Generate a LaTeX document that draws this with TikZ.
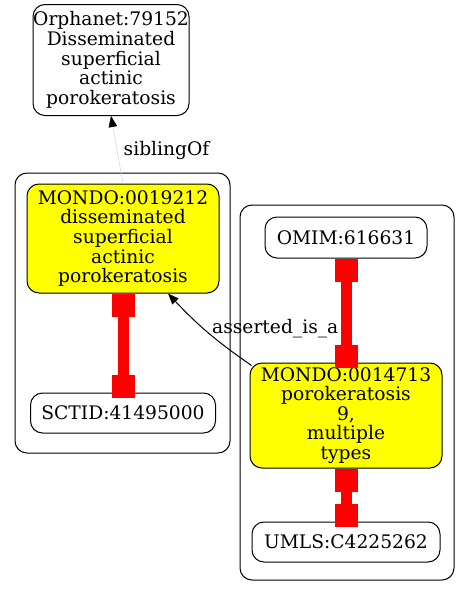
\documentclass[tikz,border=0pt]{standalone}
\usepackage{fontspec}
\setmainfont{DejaVu Serif}
\usetikzlibrary{arrows.meta}
\definecolor{lgray}{HTML}{D3D3D3}
\definecolor{gvyellow}{RGB}{255,255,0}
\definecolor{gvred}{RGB}{255,0,0}
\begin{document}
\begin{tikzpicture}[x=1pt,y=-1pt,
  every node/.style={font=\fontsize{18.67}{19.6}\selectfont},
  box/.style={draw=black, line width=1pt, rounded corners=12pt, align=center, inner sep=0pt},
  hl/.style={box, fill=gvyellow},
  clus/.style={draw=black, line width=1pt, rounded corners=12pt},
  redline/.style={draw=gvred, line width=11pt},
  lbl/.style={anchor=base west, inner sep=0pt},
  tip/.style={-{Triangle[length=11pt,width=8.5pt,color=black]}}]
\useasboundingbox[fill=white] (0,0) rectangle (469,597);
\draw[clus] (15,173) rectangle (230,453);
\draw[clus] (240,205) rectangle (454,580);
\node[box, minimum width=156pt, minimum height=111pt] (orph) at (111,60)
  {Orphanet:79152\\Disseminated\\superficial\\actinic\\porokeratosis};
\node[hl, minimum width=192pt, minimum height=109pt] (m1) at (123,238.5)
  {MONDO:0019212\\disseminated\\superficial\\actinic\\porokeratosis};
\node[box, minimum width=185pt, minimum height=40pt] (sct) at (123,413) {SCTID:41495000};
\node[box, minimum width=162pt, minimum height=41pt] (omim) at (346,237.5) {OMIM:616631};
\node[hl, minimum width=192pt, minimum height=105pt] (m2) at (346,415.5)
  {MONDO:0014713\\porokeratosis\\9,\\multiple\\types};
\node[box, minimum width=188pt, minimum height=40pt] (umls) at (346,542) {UMLS:C4225262};
% siblingOf
\draw[draw=lgray, line width=0.5pt, tip] (m1.north) -- (orph.south);
\node[lbl] (l1) at (123.5,155) {siblingOf};
% asserted_is_a
\draw[black, line width=1pt, tip] ([shift={(2,3)}]m2.north west) to[bend left=6] ([xshift=45pt]m1.south);
\node[lbl] (l2) at (212,333) {asserted\_is\_a};
% red edges
\foreach \a/\b in {m1/sct, omim/m2, m2/umls}{
  \draw[redline] (\a.south) -- (\b.north);
  \fill[gvred] ([xshift=-11.5pt]\a.south) rectangle ([xshift=11.5pt,yshift=-23pt]\a.south);
  \fill[gvred] ([xshift=-11.5pt,yshift=-5pt]\b.north) rectangle ([xshift=11.5pt,yshift=18pt]\b.north);
}
\end{tikzpicture}
\end{document}
